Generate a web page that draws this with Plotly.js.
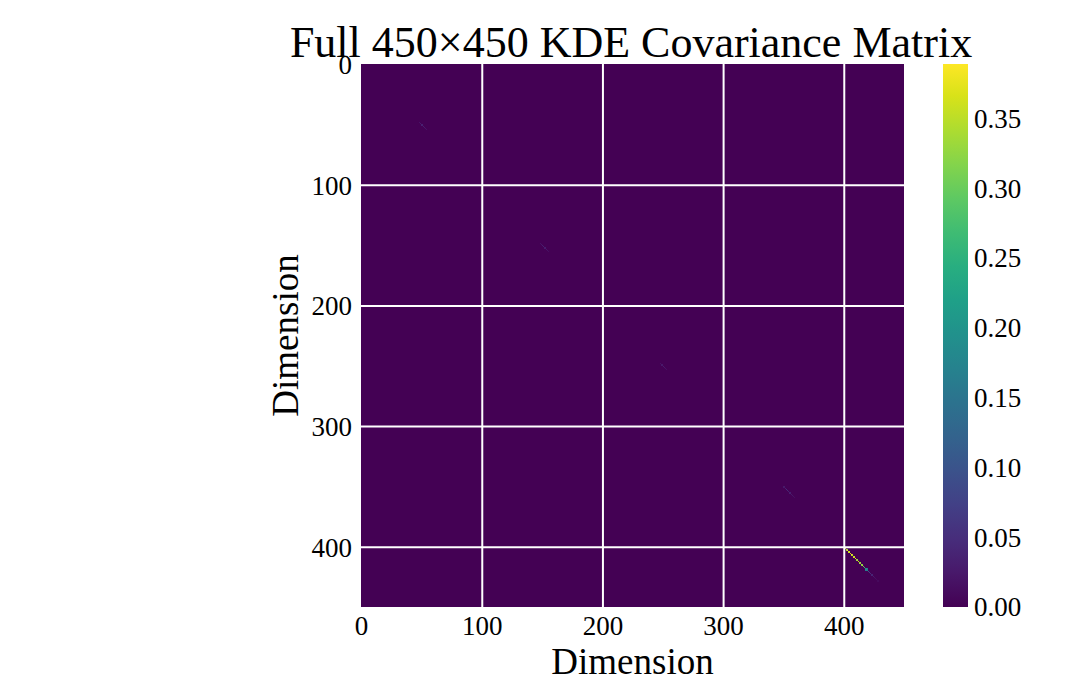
<!DOCTYPE html>
<html>
<head>
<meta charset="utf-8">
<script src="https://cdn.plot.ly/plotly-3.0.1.min.js"></script>
<style>
  html, body { margin: 0; padding: 0; background: #fff; }
  #chart { width: 1075px; height: 700px; }
</style>
</head>
<body>
<div id="chart"></div>
<script>
// ---- data ----
const matrixSize = 450;
const tickVals = [0, 100, 200, 300, 400];
const gridVals = [100, 200, 300, 400];
const cbarTicks = [0, 0.05, 0.10, 0.15, 0.20, 0.25, 0.30, 0.35];
const zMax = 0.389;

// diagonal segments that are not zero (start index + values along the diagonal)
const diagStarts = [48, 148, 248, 350, 400];
const diagValues = [
  [0.020, 0.028, 0.035, 0.032, 0.028, 0.022, 0.018],
  [0.018, 0.025, 0.032, 0.035, 0.030, 0.024, 0.020, 0.015],
  [0.018, 0.025, 0.030, 0.026, 0.020, 0.016],
  [0.025, 0.035, 0.050, 0.045, 0.038, 0.032, 0.026, 0.022, 0.018, 0.014],
  [0.380, 0.370, 0.360, 0.385, 0.360, 0.370, 0.389, 0.350, 0.360, 0.380,
   0.340, 0.350, 0.370, 0.330, 0.340, 0.360, 0.300, 0.270, 0.200, 0.170,
   0.100, 0.070, 0.050, 0.040, 0.030, 0.020, 0.016, 0.012, 0.010]
];

// next-to-diagonal cells in the bright block (the bigger dots)
const nbIndex = [402, 406, 410, 414, 418];
const nbValues = [0.33, 0.35, 0.32, 0.30, 0.16];

// ---- build matrix ----
const z = [];
for (let i = 0; i < matrixSize; i++) z.push(new Array(matrixSize).fill(0));
diagStarts.forEach((s, k) => {
  diagValues[k].forEach((v, j) => { z[s + j][s + j] = v; });
});
nbIndex.forEach((i, k) => {
  z[i][i + 1] = nbValues[k];
  z[i + 1][i] = nbValues[k];
});

const FONT = 'Liberation Serif, DejaVu Serif, serif';

const gridShapes = [];
gridVals.forEach(v => {
  gridShapes.push({ type: 'line', xref: 'x', yref: 'paper', x0: v, x1: v, y0: 0, y1: 1,
    line: { color: '#ffffff', width: 2 } });
  gridShapes.push({ type: 'line', xref: 'paper', yref: 'y', x0: 0, x1: 1, y0: v, y1: v,
    line: { color: '#ffffff', width: 2 } });
});

Plotly.newPlot('chart', [{
  type: 'heatmap',
  z: z,
  colorscale: 'Viridis',
  zmin: 0,
  zmax: zMax,
  hoverinfo: 'skip',
  colorbar: {
    x: 1.072, xanchor: 'left', xpad: 0,
    y: 0.5, yanchor: 'middle', ypad: 0,
    len: 1, lenmode: 'fraction',
    thickness: 25,
    outlinewidth: 0,
    ticks: '',
    tickvals: cbarTicks,
    tickformat: '.2f',
    tickfont: { family: FONT, size: 27, color: '#000' },
  },
}], {
  width: 1075,
  height: 700,
  paper_bgcolor: '#fff',
  plot_bgcolor: '#fff',
  margin: { l: 361, r: 171, t: 64, b: 93 },
  font: { family: FONT, color: '#000' },
  title: {
    text: 'Full 450×450 KDE Covariance Matrix',
    font: { family: FONT, size: 44, color: '#000' },
    x: 0.587, xanchor: 'center',
    yref: 'container', y: 0.94, yanchor: 'middle',
  },
  xaxis: {
    range: [-0.5, matrixSize - 0.5],
    tickvals: tickVals,
    ticks: '',
    showgrid: false, zeroline: false, showline: false,
    tickfont: { family: FONT, size: 27, color: '#000' },
    title: { text: 'Dimension', font: { family: FONT, size: 37, color: '#000' }, standoff: 8 },
  },
  yaxis: {
    range: [matrixSize - 0.5, -0.5],
    tickvals: tickVals,
    ticks: '',
    ticklabelstandoff: 8,
    showgrid: false, zeroline: false, showline: false,
    tickfont: { family: FONT, size: 27, color: '#000' },
    title: { text: 'Dimension', font: { family: FONT, size: 37, color: '#000' }, standoff: 1 },
  },
  shapes: gridShapes,
}, { displayModeBar: false, staticPlot: true });
</script>
</body>
</html>
